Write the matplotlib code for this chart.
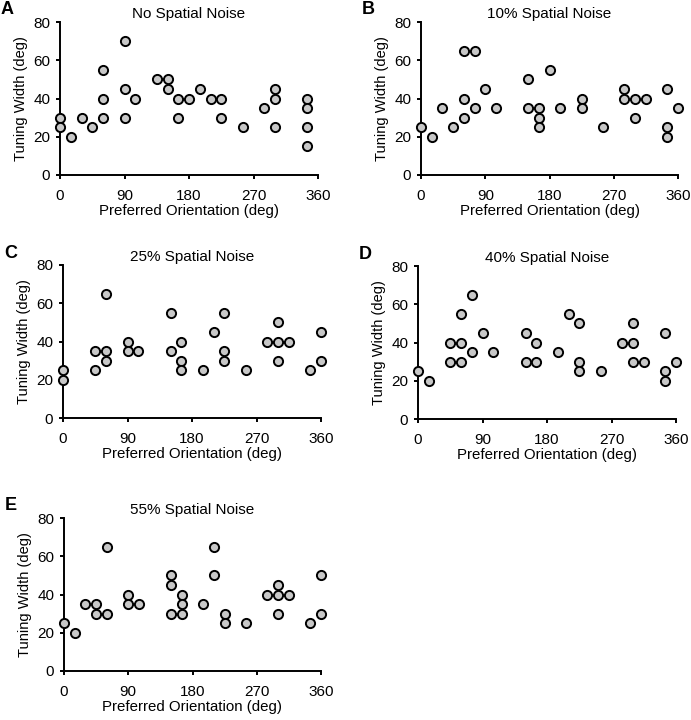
import matplotlib
matplotlib.use("Agg")
import matplotlib.pyplot as plt

plt.rcParams['font.family'] = ['Liberation Sans', 'DejaVu Sans']

# preferred orientation (deg) and tuning width (deg) for each panel
a_x = [0, 0, 15, 30, 45, 60, 60, 60, 90, 90, 90, 105, 135, 150, 150, 165, 165,
       180, 195, 210, 225, 225, 255, 285, 300, 300, 300, 345, 345, 345, 345]
a_y = [30, 25, 20, 30, 25, 55, 40, 30, 70, 45, 30, 40, 50, 50, 45, 40, 30,
       40, 45, 40, 40, 30, 25, 35, 45, 40, 25, 40, 35, 25, 15]

b_x = [0, 15, 30, 45, 60, 60, 60, 75, 75, 90, 105, 150, 150, 165, 165, 165,
       180, 195, 225, 225, 255, 285, 285, 300, 300, 315, 345, 345, 345, 360]
b_y = [25, 20, 35, 25, 65, 40, 30, 65, 35, 45, 35, 50, 35, 35, 30, 25,
       55, 35, 40, 35, 25, 45, 40, 40, 30, 40, 45, 25, 20, 35]

c_x = [0, 0, 45, 45, 60, 60, 60, 90, 90, 105, 150, 150, 165, 165, 165, 195,
       210, 225, 225, 225, 255, 285, 300, 300, 300, 315, 345, 360, 360]
c_y = [25, 20, 35, 25, 65, 35, 30, 40, 35, 35, 55, 35, 40, 30, 25, 25,
       45, 55, 35, 30, 25, 40, 50, 40, 30, 40, 25, 45, 30]

d_x = [0, 15, 45, 45, 60, 60, 60, 75, 75, 90, 105, 150, 150, 165, 165, 195,
       210, 225, 225, 225, 255, 285, 300, 300, 300, 315, 345, 345, 345, 360]
d_y = [25, 20, 40, 30, 55, 40, 30, 65, 35, 45, 35, 45, 30, 40, 30, 35,
       55, 50, 30, 25, 25, 40, 50, 40, 30, 30, 45, 25, 20, 30]

e_x = [0, 15, 30, 45, 45, 60, 60, 90, 90, 105, 150, 150, 150, 165, 165, 165,
       195, 210, 210, 225, 225, 255, 285, 300, 300, 300, 315, 345, 360, 360]
e_y = [25, 20, 35, 35, 30, 65, 30, 40, 35, 35, 50, 45, 30, 40, 35, 30,
       35, 65, 50, 30, 25, 25, 40, 45, 40, 30, 40, 25, 50, 30]

panels = [
    ("A", "No Spatial Noise", a_x, a_y, (60, 22, 318, 175)),
    ("B", "10% Spatial Noise", b_x, b_y, (421, 22, 678, 175)),
    ("C", "25% Spatial Noise", c_x, c_y, (63, 265, 321, 418)),
    ("D", "40% Spatial Noise", d_x, d_y, (418, 266, 676, 419)),
    ("E", "55% Spatial Noise", e_x, e_y, (64, 518, 321, 671)),
]

W, H = 691, 720
fig = plt.figure(figsize=(W / 100, H / 100), dpi=100)

for letter, title, xs, ys, (l, t, r, b) in panels:
    ax = fig.add_axes([l / W, 1 - b / H, (r - l) / W, (b - t) / H])
    ax.plot(xs, ys, 'o', ms=6.6, mfc='#c8c8c8', mec='black', mew=1.4,
            clip_on=False, zorder=3)
    ax.set_xlim(0, 360)
    ax.set_ylim(0, 80)
    ax.set_xticks([0, 90, 180, 270, 360])
    ax.set_yticks([0, 20, 40, 60, 80])
    for s in ['top', 'right']:
        ax.spines[s].set_visible(False)
    for s in ['left', 'bottom']:
        ax.spines[s].set_linewidth(1.4)
    ax.tick_params(direction='out', length=3, width=1.4, labelsize=11)
    ax.tick_params(axis='x', pad=7)
    ax.tick_params(axis='y', pad=4)
    ax.set_title(title, fontsize=11, pad=3)
    ax.set_xlabel("Preferred Orientation (deg)", fontsize=10.8, labelpad=1)
    ax.set_ylabel("Tuning Width (deg)", fontsize=10.5, labelpad=4)
    fig.text((l - 59) / W, 1 - (t - 12) / H, letter, fontsize=13,
             fontweight='bold', va='center', ha='left')

fig.savefig("out.png", dpi=100)
print("ok")
